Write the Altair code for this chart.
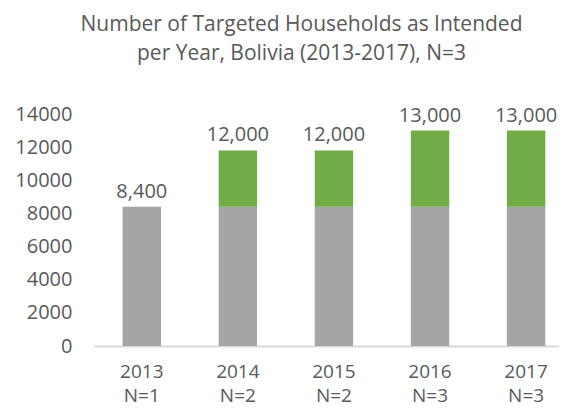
import altair as alt
import pandas as pd

years = ["2013", "2014", "2015", "2016", "2017"]
n_counts = ["N=1", "N=2", "N=2", "N=3", "N=3"]
base_values = [8400, 8400, 8400, 8400, 8400]
added_values = [0, 3400, 3400, 4600, 4600]
total_labels = ["8,400", "12,000", "12,000", "13,000", "13,000"]
title_lines = ["Number of Targeted Households as Intended",
               "per Year, Bolivia (2013-2017), N=3"]

cats = [f"{y}|{n}" for y, n in zip(years, n_counts)]
rows = []
for c, b, a in zip(cats, base_values, added_values):
    rows.append({"cat": c, "series": "base", "value": b, "ord": 0})
    rows.append({"cat": c, "series": "added", "value": a, "ord": 1})
df = pd.DataFrame(rows)
lab = pd.DataFrame({"cat": cats,
                    "total": [b + a for b, a in zip(base_values, added_values)],
                    "label": total_labels})

FONT = "Open Sans"
TXT = "#595959"

x_axis = alt.Axis(labelExpr="split(datum.label, '|')", labelAngle=0,
                  labelFontSize=19, labelColor=TXT, labelFont=FONT,
                  labelLineHeight=24, labelPadding=16,
                  ticks=False, tickSize=0, domainColor="#D9D9D9",
                  domainWidth=2)
y_axis = alt.Axis(values=list(range(0, 14001, 2000)), grid=False,
                  domain=False, ticks=False, tickSize=0, format="d",
                  labelOverlap=False, labelPadding=22,
                  labelFontSize=20, labelColor=TXT, labelFont=FONT)
x_scale = alt.Scale(paddingInner=0.6, paddingOuter=0.22, align=0.676)
y_scale = alt.Scale(domain=[0, 14000], nice=False)

bars = alt.Chart(df).mark_bar().encode(
    x=alt.X("cat:N", sort=cats, title=None, scale=x_scale, axis=x_axis),
    y=alt.Y("value:Q", stack="zero", title=None, scale=y_scale, axis=y_axis),
    color=alt.Color("series:N", legend=None,
                    scale=alt.Scale(domain=["base", "added"],
                                    range=["#A5A5A5", "#70AD47"])),
    order=alt.Order("ord:Q", sort="ascending"),
)

texts = alt.Chart(lab).mark_text(baseline="alphabetic", dy=-9, fontSize=20,
                                 color=TXT, font=FONT).encode(
    x=alt.X("cat:N", sort=cats, title=None, scale=x_scale, axis=x_axis),
    y=alt.Y("total:Q", title=None, scale=y_scale, axis=y_axis),
    text="label:N",
)

chart = alt.layer(bars, texts).properties(
    width=465, height=232,
    autosize=alt.AutoSizeParams(type="none"),
    padding={"left": 86, "top": 106, "right": 0, "bottom": 62},
    title=alt.TitleParams(text=title_lines, fontSize=21, font=FONT,
                          fontWeight="normal", color=TXT, anchor="middle",
                          lineHeight=29, offset=40, dx=-25),
).configure_view(stroke=None)

chart.save("out.html", embed_options={"renderer": "svg", "actions": False})
